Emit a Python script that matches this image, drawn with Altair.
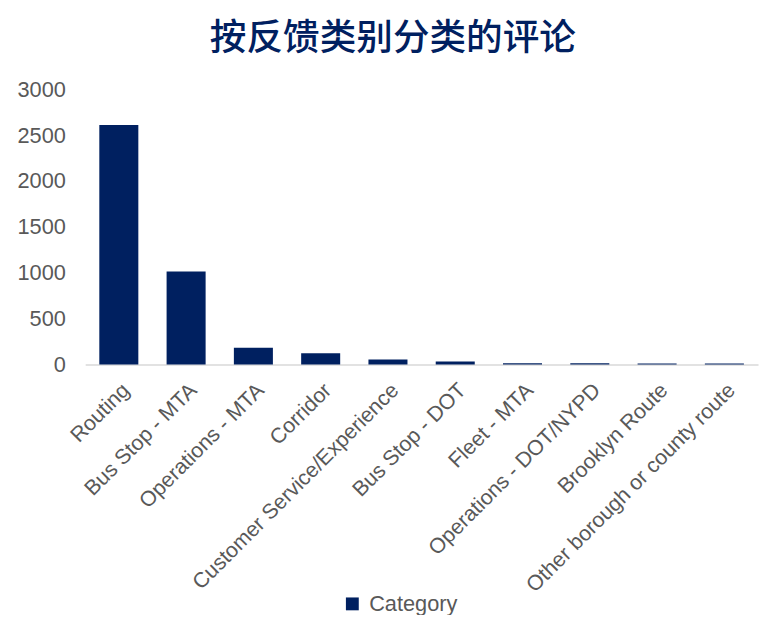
import altair as alt
import pandas as pd

categories = [
    "Routing",
    "Bus Stop - MTA",
    "Operations - MTA",
    "Corridor",
    "Customer Service/Experience",
    "Bus Stop - DOT",
    "Fleet - MTA",
    "Operations - DOT/NYPD",
    "Brooklyn Route",
    "Other borough or county route",
]
counts = [2611, 1014, 183, 122, 54, 32, 14, 12, 11, 10]
series_name = "Category"
title_text = "按反馈类别分类的评论"
y_ticks = [0, 500, 1000, 1500, 2000, 2500, 3000]

df = pd.DataFrame({"cat": categories, "count": counts, "series": [series_name] * len(categories)})

navy = "#002060"
gray = "#595959"

chart = (
    alt.Chart(df)
    .mark_bar(color=navy)
    .encode(
        x=alt.X(
            "cat:N",
            sort=categories,
            title=None,
            scale=alt.Scale(paddingInner=0.42, paddingOuter=0.21),
            axis=alt.Axis(
                labelAngle=-45,
                labelFont="Liberation Sans",
                labelFontSize=21.5,
                labelColor=gray,
                labelPadding=15,
                ticks=False,
                domainColor="#d9d9d9",
                domainWidth=1.5,
                grid=False,
                labelLimit=400,
            ),
        ),
        y=alt.Y(
            "count:Q",
            title=None,
            scale=alt.Scale(domain=[0, 3000], nice=False),
            axis=alt.Axis(
                values=y_ticks,
                format="d",
                labelFont="Liberation Sans",
                labelFontSize=22,
                labelColor=gray,
                labelPadding=20,
                ticks=False,
                domain=False,
                grid=False,
            ),
        ),
        color=alt.Color(
            "series:N",
            scale=alt.Scale(domain=[series_name], range=[navy]),
            legend=alt.Legend(
                title=None,
                orient="none",
                legendX=259,
                legendY=509,
                symbolType="square",
                symbolSize=169,
                symbolStrokeWidth=0,
                labelFont="Liberation Sans",
                labelFontSize=22,
                labelColor=gray,
                labelOffset=6,
                padding=0,
            ),
        ),
    )
    .properties(
        width=680,
        height=278,
        title=alt.TitleParams(
            text=title_text,
            font="Noto Sans CJK SC",
            fontSize=37,
            fontWeight=500,
            color=navy,
            anchor="middle",
            dx=-29,
            offset=21,
        ),
        autosize=alt.AutoSizeParams(type="none"),
        padding={"left": 78, "top": 79, "right": 2, "bottom": 250},
    )
    .configure_view(stroke=None)
)

chart.save("out.html", embed_options={"renderer": "svg", "actions": False})
